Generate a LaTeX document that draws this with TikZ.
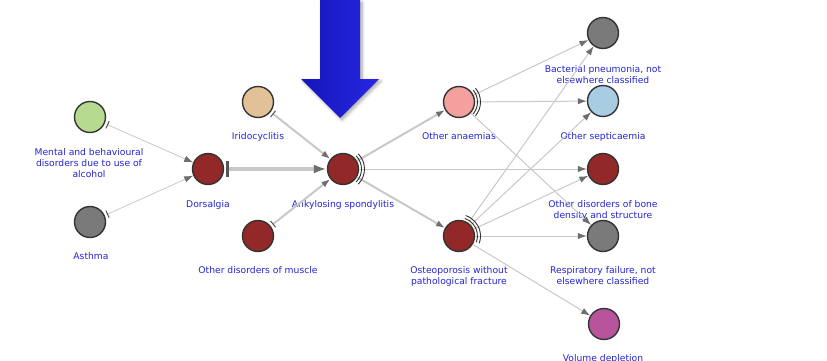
\documentclass[tikz,border=0pt]{standalone}
\usepackage{fontspec}
\setmainfont{DejaVu Sans}
\usetikzlibrary{arrows.meta,shadows,shadows.blur,calc}
\definecolor{dred}{RGB}{146,40,40}
\definecolor{ngray}{RGB}{122,122,122}
\definecolor{ngreen}{RGB}{181,218,144}
\definecolor{ntan}{RGB}{226,193,152}
\definecolor{npink}{RGB}{244,160,158}
\definecolor{nblue}{RGB}{168,205,226}
\definecolor{nmag}{RGB}{184,84,156}
\definecolor{bord}{RGB}{51,51,51}
\definecolor{labblue}{RGB}{35,35,210}
\definecolor{edgegray}{RGB}{200,200,200}
\definecolor{tipgray}{RGB}{110,110,110}
\definecolor{tickgray}{RGB}{85,85,85}
\definecolor{arrL}{RGB}{22,22,185}
\definecolor{arrR}{RGB}{38,38,228}
\begin{document}
\begin{tikzpicture}[x=1pt,y=-1pt,
  dis/.style={circle, draw=bord, line width=1.4pt, minimum size=31pt, inner sep=0pt},
  lab/.style={font=\fontsize{9.2}{11}\selectfont, text=labblue, align=center, anchor=north, inner sep=0pt},
  lnk/.style={draw=edgegray, line width=#1, -{Latex[length=9pt,width=6.5pt,color=tipgray]}},
  tlnk/.style={draw=edgegray, line width=#1, shorten <=2.5pt, {Bar[width=8pt,line width=1pt,color=tickgray]}-{Latex[length=9pt,width=6.5pt,color=tipgray]}},
  hubarc/.style={draw=bord, line width=0.9pt}]
\useasboundingbox (0,0) rectangle (827,361);
% nodes
\node[dis, fill=ngreen] (ment) at (90,117) {};
\node[dis, fill=ngray] (asth) at (90,222) {};
\node[dis, fill=dred] (dors) at (208,169) {};
\node[dis, fill=ntan] (irid) at (258,102) {};
\node[dis, fill=dred] (musc) at (258,236) {};
\node[dis, fill=dred] (anky) at (343,169) {};
\node[dis, fill=npink] (anae) at (459,102) {};
\node[dis, fill=dred] (oste) at (459,236) {};
\node[dis, fill=ngray] (bact) at (603,33) {};
\node[dis, fill=nblue] (sept) at (603,101) {};
\node[dis, fill=dred] (bone) at (603,169) {};
\node[dis, fill=ngray] (resp) at (603,236) {};
\node[dis, fill=nmag] (volu) at (604,324) {};
% labels
\node[lab] (lment) at (89,148) {Mental and behavioural\\disorders due to use of\\alcohol};
\node[lab] (lasth) at (91,252) {Asthma};
\node[lab] (ldors) at (208,200) {Dorsalgia};
\node[lab] (lirid) at (258,132) {Iridocyclitis};
\node[lab] (lmusc) at (258,266) {Other disorders of muscle};
\node[lab] (lanky) at (343,200) {Ankylosing spondylitis};
\node[lab] (lanae) at (459,132) {Other anaemias};
\node[lab] (loste) at (459,266) {Osteoporosis without\\pathological fracture};
\node[lab] (lbact) at (603,65) {Bacterial pneumonia, not\\elsewhere classified};
\node[lab] (lsept) at (603,132) {Other septicaemia};
\node[lab] (lbone) at (603,200) {Other disorders of bone\\density and structure};
\node[lab] (lresp) at (603,266) {Respiratory failure, not\\elsewhere classified};
\node[lab] (lvolu) at (603,354) {Volume depletion};
% edges
\draw[tlnk=0.8pt] (ment) -- (dors);
\draw[tlnk=0.8pt] (asth) -- (dors);
\draw[draw=edgegray, line width=4pt, shorten <=2pt, {Bar[width=16pt,line width=3pt,color=tickgray]}-{Latex[length=13pt,width=9pt,color=tipgray]}] (dors) -- (anky);
\draw[tlnk=2pt] (irid) -- (anky);
\draw[tlnk=2pt] (musc) -- (anky);
\draw[lnk=2pt] (anky) -- (anae);
\draw[lnk=1pt] (anky) -- (bone);
\draw[lnk=2pt] (anky) -- (oste);
\draw[lnk=1pt] (anae) -- (bact);
\draw[lnk=1pt] (anae) -- (sept);
\draw[lnk=1pt] (anae) -- (resp);
\draw[lnk=1pt] (oste) -- (bact);
\draw[lnk=1pt] (oste) -- (sept);
\draw[lnk=1pt] (oste) -- (bone);
\draw[lnk=1pt] (oste) -- (resp);
\draw[lnk=1pt] (oste) -- (volu);
% hub arcs
\foreach \r in {18.5,21.5}{
  \draw[hubarc] ($(anky.center)+(-45:\r)$) arc[start angle=-45,end angle=45,radius=\r];
  \draw[hubarc] ($(anae.center)+(-40:\r)$) arc[start angle=-40,end angle=40,radius=\r];
  \draw[hubarc] ($(oste.center)+(-72:\r)$) arc[start angle=-72,end angle=20,radius=\r];
}
% big blue arrow
\path[left color=arrL, right color=arrR, blur shadow={shadow blur steps=8, shadow xshift=2pt, shadow yshift=-2pt, shadow opacity=35, shadow blur radius=3pt}]
  (320,0) -- (360,0) -- (360,79) -- (379,79) -- (340,118) -- (301,79) -- (320,79) -- cycle;
\end{tikzpicture}
\end{document}
